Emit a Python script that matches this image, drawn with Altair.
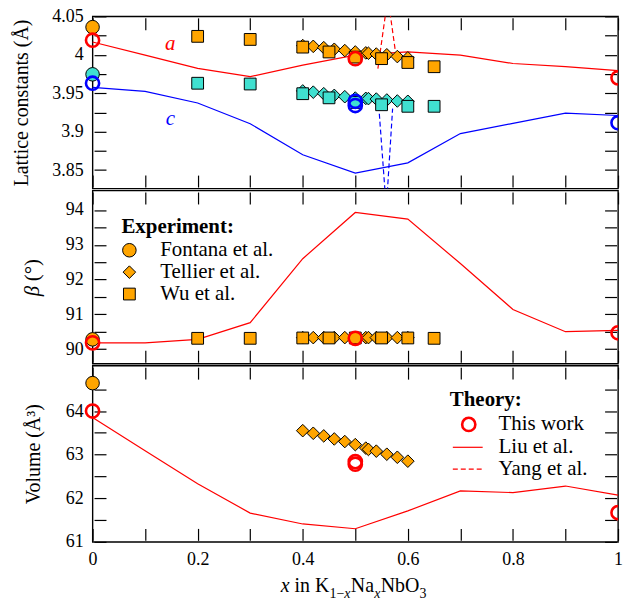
import altair as alt
import pandas as pd

# ---------------- data ----------------
X_LIU = [0.0, 0.1, 0.2, 0.3, 0.4, 0.5, 0.6, 0.7, 0.8, 0.9, 1.0]
LIU_A = [4.0166, 3.9995, 3.9823, 3.9716, 3.9866, 3.9995, 4.0037, 3.9995, 3.9887, 3.9845, 3.9793]
LIU_C = [3.9575, 3.9523, 3.9373, 3.9103, 3.8700, 3.8460, 3.8594, 3.8975, 3.9108, 3.9240, 3.9210]
LIU_BETA = [90.18, 90.18, 90.28, 90.76, 92.60, 93.93, 93.74, 92.46, 91.14, 90.50, 90.54]
LIU_VOL = [63.85, 63.09, 62.33, 61.66, 61.41, 61.30, 61.71, 62.17, 62.13, 62.28, 62.07]

YANG_AX = [0.543, 0.562, 0.576]
YANG_A = [3.982, 4.075, 4.006]
YANG_CX = [0.5435, 0.559, 0.571]
YANG_C = [3.944, 3.800, 3.930]

TEL_X = [0.40, 0.42, 0.44, 0.46, 0.48, 0.50, 0.52, 0.525, 0.54, 0.56, 0.58, 0.60]
TEL_A = [4.012, 4.011, 4.0093, 4.0072, 4.0055, 4.0037, 4.0025, 4.002, 4.001, 4.000, 3.9977, 3.996]
TEL_C = [3.953, 3.9514, 3.9494, 3.9472, 3.9455, 3.9437, 3.9433, 3.943, 3.9424, 3.9412, 3.9399, 3.9395]
TEL_BETA = [90.33, 90.33, 90.33, 90.33, 90.33, 90.33, 90.33, 90.33, 90.33, 90.33, 90.33, 90.33]
TEL_VOL = [63.55, 63.49, 63.43, 63.36, 63.30, 63.23, 63.15, 63.12, 63.08, 63.01, 62.94, 62.85]

WU_X = [0.2, 0.3, 0.4, 0.45, 0.5, 0.55, 0.6, 0.65]
WU_A = [4.024, 4.020, 4.010, 4.0037, 3.997, 3.995, 3.990, 3.9845]
WU_C = [3.963, 3.962, 3.9494, 3.944, 3.938, 3.935, 3.933, 3.933]
WU_BETA = [90.31, 90.31, 90.32, 90.32, 90.32, 90.32, 90.32, 90.31]

FON_X = [0.0]
FON_A = [4.036]
FON_C = [3.9746]
FON_BETA = [90.28]
FON_VOL = [64.64]

TW_AX = [0.0, 0.5, 1.0]
TW_A = [4.019, 3.995, 3.970]
TW_CX = [0.0, 0.5, 0.5, 1.0]
TW_C = [3.963, 3.9395, 3.934, 3.9116]
TW_BX = [0.0, 0.5, 1.0]
TW_BETA = [90.18, 90.31, 90.47]
TW_VX = [0.0, 0.5, 0.5, 1.0]
TW_VOL = [64.0, 62.84, 62.78, 61.67]

ANNOT_TEXT = ["a", "c"]
ANNOT_X = [0.148, 0.148]
ANNOT_Y = [4.014, 3.916]

X_TICKS = [0.0, 0.1, 0.2, 0.3, 0.4, 0.5, 0.6, 0.7, 0.8, 0.9, 1.0]
Y_TICKS_TOP = [3.85, 3.875, 3.9, 3.925, 3.95, 3.975, 4.0, 4.025, 4.05]
Y_TICKS_MID = [90.0, 90.5, 91.0, 91.5, 92.0, 92.5, 93.0, 93.5, 94.0]
Y_TICKS_BOT = [61.0, 61.5, 62.0, 62.5, 63.0, 63.5, 64.0, 64.5]

# ---------------- style ----------------
ORANGE = "#FFA500"
CYAN = "#40E0D0"
RED = "#FF0000"
BLUE = "#0000FF"
FONT = "Liberation Serif"
W = 528
H_TOP, H_MID, H_BOT = 173, 174, 177
TICK = 12
OFF = -(TICK + 1.5)
LAB = 18
LEG = 21
S_CIRC, S_DIAM, S_SQ, S_OPEN = 185, 160, 140, 175

xs = alt.Scale(domain=[0, 1], nice=False, zero=False)
ys_top = alt.Scale(domain=[3.826, 4.05], nice=False, zero=False)
ys_mid = alt.Scale(domain=[89.58, 94.56], nice=False, zero=False)
ys_bot = alt.Scale(domain=[61.0, 65.04], nice=False, zero=False)


def x_axis(orient, labels):
    kw = dict(orient=orient, values=X_TICKS, tickSize=TICK, offset=OFF, domain=False,
              grid=False, labels=labels, labelFlush=False, labelOverlap=False,
              tickColor="black", tickWidth=1.2, title=None)
    if labels:
        kw.update(labelExpr="abs(datum.value*5 - round(datum.value*5)) < 0.001 ? toString(round(datum.value*10)/10) : ''",
                  labelPadding=10, labelFont=FONT, labelFontSize=LAB, labelColor="black")
    return alt.Axis(**kw)


def y_axis(orient, values, expr=None, title=None, title_pad=0):
    kw = dict(orient=orient, values=values, tickSize=TICK, offset=OFF, domain=False,
              grid=False, labels=expr is not None, labelFlush=False, labelOverlap=False,
              tickColor="black", tickWidth=1.2, title=title)
    if expr is not None:
        kw.update(labelExpr=expr, labelPadding=11, labelFont=FONT, labelFontSize=LAB, labelColor="black")
    if title is not None:
        kw.update(titleFont=FONT, titleFontSize=20, titleFontWeight="normal", titleColor="black",
                  titlePadding=title_pad)
    return alt.Axis(**kw)


def frame(xv, yv):
    return pd.DataFrame({"x": xv, "v": yv})


def line(df, color, ys, dash=None, clip=False, xaxis=None, yaxis=None):
    kw = dict(color=color, strokeWidth=1.2, clip=clip)
    if dash:
        kw["strokeDash"] = dash
    return alt.Chart(df).mark_line(**kw).encode(
        x=alt.X("x:Q", scale=xs, axis=xaxis), y=alt.Y("v:Q", scale=ys, axis=yaxis))


def pts(df, shape, fill, size, ys):
    return alt.Chart(df).mark_point(shape=shape, filled=True, fill=fill, stroke="black",
                                    strokeWidth=1, size=size, opacity=1).encode(
        x=alt.X("x:Q", scale=xs, axis=None), y=alt.Y("v:Q", scale=ys, axis=None))


def open_circ(df, color, ys):
    inner = df[df["x"] < 1]
    edge = df[df["x"] >= 1]
    out = []
    for d, clip in ((inner, False), (edge, True)):
        out.append(alt.Chart(d).mark_point(shape="circle", filled=False, stroke=color,
                                           strokeWidth=2.6, size=S_OPEN, opacity=1, clip=clip).encode(
            x=alt.X("x:Q", scale=xs, axis=None), y=alt.Y("v:Q", scale=ys, axis=None)))
    return out


def axes_layer(df, ys, yvals):
    # invisible layer that carries the top and right axes
    return alt.Chart(df).mark_point(opacity=0).encode(
        x=alt.X("x:Q", scale=xs, axis=x_axis("top", False)),
        y=alt.Y("v:Q", scale=ys, axis=y_axis("right", yvals)))


one = pd.DataFrame({"k": [0]})


def txt(s, x, y, size=LEG, color="black", weight="normal", style="normal", align="left",
        baseline="middle", angle=0):
    kw = dict(text=s, font=FONT, fontSize=size, color=color, fontWeight=weight,
              fontStyle=style, align=align, baseline=baseline)
    if angle:
        kw["angle"] = angle
    return alt.Chart(one).mark_text(**kw).encode(x=alt.value(x), y=alt.value(y))


def sym(shape, x, y, size, fill=None, stroke="black", sw=1.0):
    if fill is None:
        m = alt.Chart(one).mark_point(shape=shape, filled=False, stroke=stroke, strokeWidth=sw,
                                      size=size, opacity=1)
    else:
        m = alt.Chart(one).mark_point(shape=shape, filled=True, fill=fill, stroke=stroke,
                                      strokeWidth=sw, size=size, opacity=1)
    return m.encode(x=alt.value(x), y=alt.value(y))


# ---------------- top panel: lattice constants ----------------
top_expr = "abs(datum.value*20 - round(datum.value*20)) < 0.001 ? toString(round(datum.value*100)/100) : ''"
liu_a = frame(X_LIU, LIU_A)
annot = pd.DataFrame({"x": ANNOT_X, "v": ANNOT_Y, "t": ANNOT_TEXT})

top_layers = [
    line(liu_a, RED, ys_top, xaxis=x_axis("bottom", False),
         yaxis=y_axis("left", Y_TICKS_TOP, top_expr, "Lattice constants (Å)", 20)),
    axes_layer(liu_a, ys_top, Y_TICKS_TOP),
    line(frame(X_LIU, LIU_C), BLUE, ys_top),
    line(frame(YANG_AX, YANG_A), RED, ys_top, dash=[5, 3], clip=True),
    line(frame(YANG_CX, YANG_C), BLUE, ys_top, dash=[5, 3], clip=True),
    pts(frame(TEL_X, TEL_A), "diamond", ORANGE, S_DIAM, ys_top),
    pts(frame(TEL_X, TEL_C), "diamond", CYAN, S_DIAM, ys_top),
    pts(frame(WU_X, WU_A), "square", ORANGE, S_SQ, ys_top),
    pts(frame(WU_X, WU_C), "square", CYAN, S_SQ, ys_top),
    pts(frame(FON_X, FON_A), "circle", ORANGE, S_CIRC, ys_top),
    pts(frame(FON_X, FON_C), "circle", CYAN, S_CIRC, ys_top),
    *open_circ(frame(TW_AX, TW_A), RED, ys_top),
    *open_circ(frame(TW_CX, TW_C), BLUE, ys_top),
    alt.Chart(annot).mark_text(font=FONT, fontSize=21, fontStyle="italic").encode(
        x=alt.X("x:Q", scale=xs, axis=None), y=alt.Y("v:Q", scale=ys_top, axis=None),
        text="t:N",
        color=alt.Color("t:N", scale=alt.Scale(domain=ANNOT_TEXT, range=[RED, BLUE]), legend=None)),
]
top = alt.layer(*top_layers).properties(width=W, height=H_TOP).resolve_axis(x="independent", y="independent")

# ---------------- middle panel: beta ----------------
mid_expr = "abs(datum.value - round(datum.value)) < 0.001 ? toString(round(datum.value)) : ''"
liu_b = frame(X_LIU, LIU_BETA)
mid_layers = [
    line(liu_b, RED, ys_mid, xaxis=x_axis("bottom", False),
         yaxis=y_axis("left", Y_TICKS_MID, mid_expr)),
    axes_layer(liu_b, ys_mid, Y_TICKS_MID),
    pts(frame(TEL_X, TEL_BETA), "diamond", ORANGE, S_DIAM, ys_mid),
    pts(frame(WU_X, WU_BETA), "square", ORANGE, S_SQ, ys_mid),
    pts(frame(FON_X, FON_BETA), "circle", ORANGE, S_CIRC, ys_mid),
    *open_circ(frame(TW_BX, TW_BETA), RED, ys_mid),
    # y title  beta (deg)
    txt("β", -60, 101, size=21, style="italic", align="center", angle=270),
    txt("(°)", -60, 80, size=21, align="center", angle=270),
    # experiment legend
    txt("Experiment:", 29, 37, weight="bold"),
    sym("circle", 37, 60, S_CIRC, fill=ORANGE),
    sym("diamond", 37, 82, S_DIAM, fill=ORANGE),
    sym("square", 37, 104, S_SQ, fill=ORANGE),
    txt("Fontana et al.", 68, 60),
    txt("Tellier et al.", 68, 82),
    txt("Wu et al.", 68, 104),
]
mid = alt.layer(*mid_layers).properties(width=W, height=H_MID).resolve_axis(x="independent", y="independent")

# ---------------- bottom panel: volume ----------------
liu_v = frame(X_LIU, LIU_VOL)
bot_layers = [
    line(liu_v, RED, ys_bot, xaxis=x_axis("bottom", True),
         yaxis=y_axis("left", Y_TICKS_BOT, mid_expr, "Volume (Å³)", 22)),
    axes_layer(liu_v, ys_bot, Y_TICKS_BOT),
    pts(frame(TEL_X, TEL_VOL), "diamond", ORANGE, S_DIAM, ys_bot),
    pts(frame(FON_X, FON_VOL), "circle", ORANGE, S_CIRC, ys_bot),
    *open_circ(frame(TW_VX, TW_VOL), RED, ys_bot),
    # theory legend
    txt("Theory:", 359, 35, weight="bold"),
    sym("circle", 378, 59, S_OPEN, stroke=RED, sw=2.6),
    alt.Chart(one).mark_rule(color=RED, strokeWidth=1.2).encode(
        x=alt.value(362), x2=alt.value(392), y=alt.value(82)),
    alt.Chart(one).mark_rule(color=RED, strokeWidth=1.2, strokeDash=[5, 3]).encode(
        x=alt.value(362), x2=alt.value(392), y=alt.value(104)),
    txt("This work", 408, 59),
    txt("Liu et al.", 408, 82),
    txt("Yang et al.", 408, 104),
    # x-axis title: x in K_{1-x}Na_xNbO_3
    txt("x", 189, 227, size=20, style="italic", baseline="alphabetic"),
    txt("in K", 203, 227, size=20, baseline="alphabetic"),
    txt("1−", 238, 233, size=14, baseline="alphabetic"),
    txt("x", 252.9, 233, size=14, style="italic", baseline="alphabetic"),
    txt("Na", 259.5, 227, size=20, baseline="alphabetic"),
    txt("x", 283, 233, size=14, style="italic", baseline="alphabetic"),
    txt("NbO", 289.5, 227, size=20, baseline="alphabetic"),
    txt("3", 328.5, 233, size=14, baseline="alphabetic"),
]
bot = alt.layer(*bot_layers).properties(width=W, height=H_BOT).resolve_axis(x="independent", y="independent")

chart = alt.vconcat(top, mid, bot, spacing=0).properties(
    padding={"left": 11, "top": 5, "right": 0, "bottom": 0},
    background="white",
).configure_view(stroke="black", strokeWidth=1.4)

chart.save("out.html", embed_options={"renderer": "svg", "actions": False})
